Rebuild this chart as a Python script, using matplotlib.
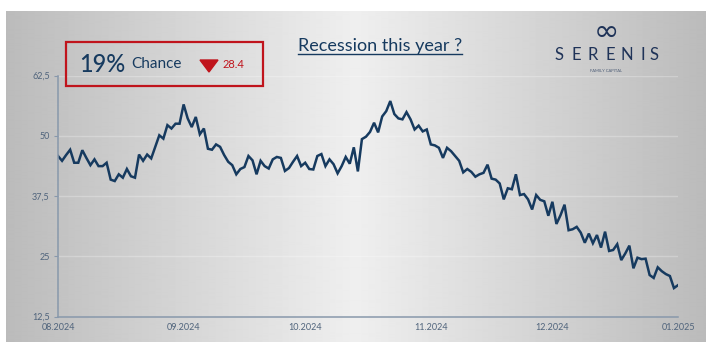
import datetime as dt
import numpy as np
import matplotlib
matplotlib.use("Agg")
import matplotlib.pyplot as plt
import matplotlib.dates as mdates
from matplotlib.patches import Rectangle, Polygon
from matplotlib.lines import Line2D

# Daily probability of a recession this year (%), 1 Aug 2024 .. 1 Jan 2025
start_date = dt.date(2024, 8, 1)
chance = [
    45.8, 44.8, 46.0, 47.1, 44.4, 44.4, 47.0, 45.4, 43.9, 45.1,
    43.7, 43.7, 44.4, 40.9, 40.6, 42.0, 41.3, 43.1, 41.6, 41.3,
    46.1, 44.8, 46.1, 45.3, 47.7, 50.1, 49.4, 52.2, 51.5, 52.5,
    52.5, 56.5, 53.6, 51.8, 53.9, 50.3, 51.5, 47.3, 47.1, 48.2,
    47.7, 46.0, 44.6, 43.9, 42.0, 43.1, 43.5, 45.8, 44.9, 42.0,
    44.8, 43.7, 43.2, 45.1, 45.6, 45.4, 42.7, 43.3, 44.6, 45.8,
    43.7, 44.4, 43.1, 43.0, 45.8, 46.2, 43.7, 45.1, 44.1, 42.2,
    43.7, 45.6, 44.2, 47.6, 42.6, 49.3, 49.8, 50.8, 52.7, 50.7,
    54.0, 55.1, 57.2, 54.5, 53.6, 53.4, 54.9, 53.4, 51.3, 52.1,
    50.9, 51.3, 48.2, 48.0, 47.5, 45.4, 47.5, 46.8, 45.8, 44.8,
    42.4, 43.1, 42.5, 41.5, 42.0, 42.3, 44.0, 41.1, 40.9, 40.1,
    36.8, 39.1, 38.9, 42.0, 37.7, 37.9, 36.8, 34.7, 37.7, 36.7,
    36.4, 33.4, 36.3, 31.7, 33.5, 35.7, 30.4, 30.6, 31.1, 29.9,
    27.8, 29.7, 27.7, 29.4, 26.8, 30.1, 26.1, 26.3, 27.5, 24.2,
    25.6, 27.2, 22.5, 24.7, 24.4, 24.5, 21.1, 20.5, 22.7, 21.9,
    21.3, 20.9, 18.4, 19.0,
]
dates = [start_date + dt.timedelta(days=i) for i in range(len(chance))]

y_ticks = [12.5, 25, 37.5, 50, 62.5]
y_tick_labels = ["12,5", "25", "37,5", "50", "62,5"]
x_tick_dates = [dt.date(2024, 8, 1), dt.date(2024, 9, 1), dt.date(2024, 10, 1),
                dt.date(2024, 11, 1), dt.date(2024, 12, 1), dt.date(2025, 1, 1)]
x_tick_labels = ["08.2024", "09.2024", "10.2024", "11.2024", "12.2024", "01.2025"]

headline_value = "19%"
headline_word = "Chance"
change_value = "28.4"
title = "Recession this year ?"

NAVY = "#163a5f"
AXIS = "#8898ab"
LABEL = "#50647c"
RED = "#c0141c"

W, H = 718, 343
fig = plt.figure(figsize=(W / 100, H / 100), dpi=100)
fig.patch.set_facecolor("white")


def fx(px):
    return px / W


def fy(py):
    return 1 - py / H


# Grey panel with a horizontal light-in-the-middle gradient
bg = fig.add_axes([fx(6), fy(342), fx(706) - fx(6), fy(11) - fy(342)])
cols = np.linspace(-1, 1, 700)
shade = 239 - 52 * np.abs(cols)
img = np.repeat((shade / 255.0)[None, :], 10, axis=0)
bg.imshow(img, cmap="gray", vmin=0, vmax=1, aspect="auto", interpolation="bilinear")
bg.set_axis_off()

ax = fig.add_axes([fx(58), fy(316.5), fx(678) - fx(58), fy(75.5) - fy(316.5)])
ax.patch.set_alpha(0)
ax.plot(dates, chance, color=NAVY, linewidth=1.8, solid_joinstyle="miter")

ax.set_ylim(12.5, 62.5)
ax.set_xlim(mdates.date2num(x_tick_dates[0]), mdates.date2num(x_tick_dates[-1]))
ax.set_yticks(y_ticks)
ax.set_yticklabels(y_tick_labels)
ax.set_xticks([mdates.date2num(d) for d in x_tick_dates])
ax.set_xticklabels(x_tick_labels)

for s in ("top", "right"):
    ax.spines[s].set_visible(False)
for s in ("left", "bottom"):
    ax.spines[s].set_color(AXIS)
    ax.spines[s].set_linewidth(1.1)

ax.tick_params(axis="y", length=3, width=0.8, color=AXIS, labelsize=6.5,
               labelcolor=LABEL, pad=3)
ax.tick_params(axis="x", length=0, labelsize=6.5, labelcolor=LABEL, pad=5)
for lbl in ax.get_xticklabels() + ax.get_yticklabels():
    lbl.set_family("Lato")

for yv in y_ticks[1:]:
    ax.axhline(yv, color="white", alpha=0.25, linewidth=1.0, zorder=0)

# Title with underline
t = fig.text(fx(380), fy(46), title, ha="center", va="center",
             fontsize=13, color=NAVY, family="Lato")
fig.canvas.draw()
bb = t.get_window_extent().transformed(fig.transFigure.inverted())
fig.add_artist(Line2D([bb.x0, bb.x1], [fy(54), fy(54)], color=NAVY, linewidth=1.0))

# Headline box
fig.add_artist(Rectangle((fx(66), fy(86)), fx(263) - fx(66), fy(42) - fy(86),
                         transform=fig.transFigure, fill=False, edgecolor=RED,
                         linewidth=1.6))
fig.text(fx(79), fy(65), headline_value, ha="left", va="center", fontsize=17,
         color=NAVY, family="Lato", fontweight="medium")
fig.text(fx(131), fy(64.5), headline_word, ha="left", va="center", fontsize=11,
         color=NAVY, family="Lato")
fig.add_artist(Polygon([[fx(200), fy(60)], [fx(218), fy(60)], [fx(209), fy(72)]],
                       closed=True, transform=fig.transFigure, facecolor=RED,
                       edgecolor=RED))
fig.text(fx(223), fy(65), change_value, ha="left", va="center", fontsize=8,
         color=RED, family="Lato")

# Brand mark
fig.text(fx(606), fy(32), "\u221e", ha="center", va="center", fontsize=22,
         color="#1f3358", family="DejaVu Sans")
for ch, cx in zip("SERENIS", [559, 576, 593, 610, 627, 643, 654]):
    fig.text(fx(cx), fy(55), ch, ha="center", va="center", fontsize=12,
             color="#1f3358", family="Lato")
fig.text(fx(606), fy(71), "FAMILY CAPITAL", ha="center", va="center",
         fontsize=3, color="#4b5b75", family="Lato")

fig.savefig("out.png", dpi=100)
